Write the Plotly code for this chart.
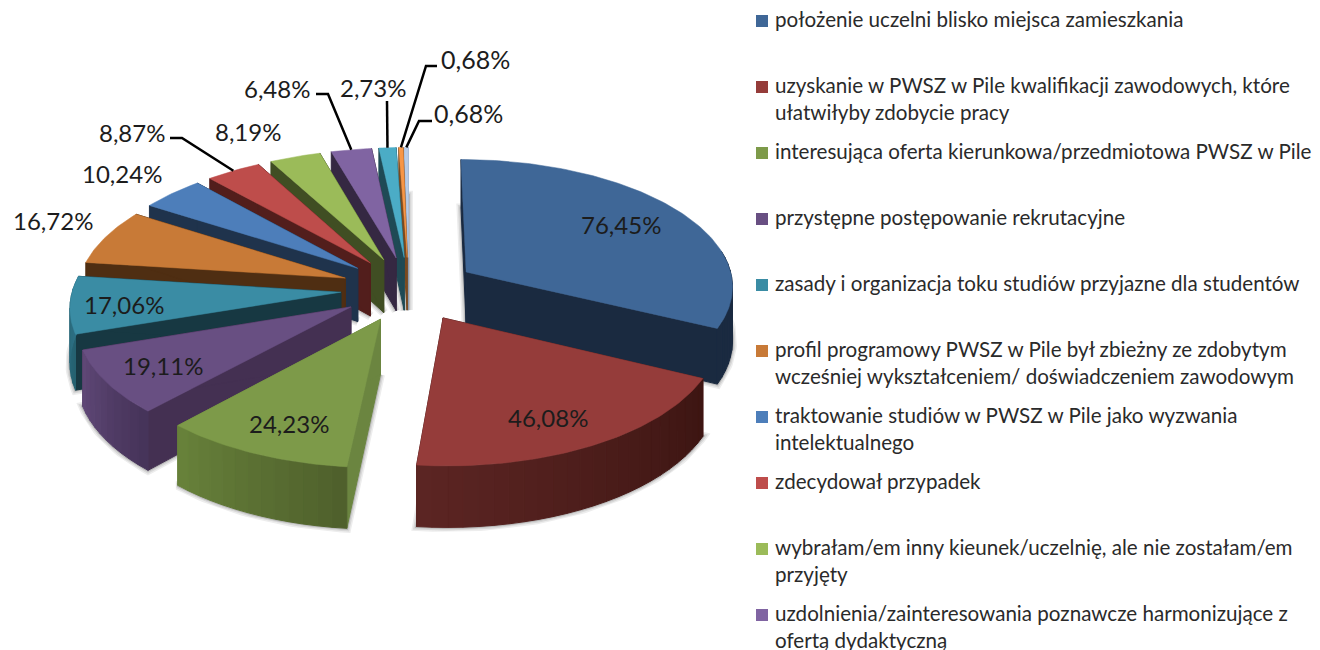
'''
    Exploded 3D-looking pie chart of the reasons for choosing PWSZ w Pile.
    The slices are scatter polygons computed from the values, so that the pie
    can be flattened and given some depth, which go.Pie is not able to do.
'''

import numpy as np
import plotly.graph_objects as go

VALUES = [76.45, 46.08, 24.23, 19.11, 17.06, 16.72, 10.24,
          8.87, 8.19, 6.48, 2.73, 0.68, 0.68]
VALUE_LABELS = ['76,45%', '46,08%', '24,23%', '19,11%', '17,06%', '16,72%', '10,24%',
                '8,87%', '8,19%', '6,48%', '2,73%', '0,68%', '0,68%']
LEGEND_NAMES = [
    ['położenie uczelni blisko miejsca zamieszkania'],
    ['uzyskanie w PWSZ w Pile kwalifikacji zawodowych, które', 'ułatwiłyby zdobycie pracy'],
    ['interesująca oferta kierunkowa/przedmiotowa PWSZ w Pile'],
    ['przystępne postępowanie rekrutacyjne'],
    ['zasady i organizacja toku studiów przyjazne dla studentów'],
    ['profil programowy PWSZ w Pile był zbieżny ze zdobytym',
     'wcześniej wykształceniem/ doświadczeniem zawodowym'],
    ['traktowanie studiów w PWSZ w Pile jako wyzwania', 'intelektualnego'],
    ['zdecydował przypadek'],
    ['wybrałam/em inny kieunek/uczelnię, ale nie zostałam/em', 'przyjęty'],
    ['uzdolnienia/zainteresowania poznawcze harmonizujące z', 'ofertą dydaktyczną'],
]

TOP_COLORS = ['#3F6797', '#953C3A', '#7D9A49', '#684F82', '#3A8CA4', '#C87A37', '#4D7EBA',
              '#BE4D4B', '#9BBB59', '#8064A2', '#4BACC6', '#F79646', '#B7CBE6']
WALL_COLORS = ['#1A2A40', '#552220', '#6B8540', '#443052', '#173842', '#4F2E12', '#1F334C',
               '#521E1C', '#404E23', '#352842', '#1F4A55', '#7A4A20', '#8C9DB5']
# outer wall goes from the first colour to the second one, clockwise
ARC_COLORS = [('#1A2A40', '#1A2A40'), ('#3C1512', '#5C2523'), ('#4E5F2B', '#68823B'),
              ('#453358', '#604878'), ('#24606F', '#2F7286'), ('#8A5425', '#8A5425'),
              ('#2F4F78', '#2F4F78'), ('#7A2F2E', '#7A2F2E'), ('#5F7536', '#5F7536'),
              ('#4F3E65', '#4F3E65'), ('#2E6B7C', '#2E6B7C'), ('#A8652E', '#A8652E'),
              ('#8C9DB5', '#8C9DB5')]

# pie geometry in pixels
CENTER_X, CENTER_Y = 409, 289
RADIUS_X, RADIUS_Y = 268, 127
EXPLODE = 0.255
PERSPECTIVE = 0.1
DEPTH = 54

# label centre for every slice, and the elbow of its leader line when it has one
LABEL_POS = [(621, 224), (548, 417), (289, 423), (163, 365), (124, 304), (53, 220), (122, 173),
             (132, 132), (248, 131), (277, 88), (373, 87), (475, 59), (468, 113)]
LABEL_SIZES = [24, 24, 24, 24, 24, 24, 24, 24, 24, 24, 24, 25, 25]
LEADERS = {7: [(170, 138), (182, 138)], 9: [(316, 94), (328, 94)], 10: [(387, 101)],
           11: [(437, 66), (426, 66)], 12: [(432, 121), (419, 121)]}
LEGEND_TOP, LEGEND_STEP, LINE_STEP = 21, 66, 27
FONT = 'Lato'


def project(angle, radius, middle, depth=0):
    '''
        Projects a point of an exploded slice onto the picture.

        Args:
            angle: Clockwise angle from the top, in degrees
            radius: Distance from the slice apex, 1 being the pie radius
            middle: Bisector angle of the slice, it gives the explosion direction
            depth: Pixels under the top face
        Returns:
            The x and y pixel position
    '''
    ang, mid = np.radians(angle), np.radians(middle)
    world_x = EXPLODE * np.sin(mid) + radius * np.sin(ang)
    world_y = -EXPLODE * np.cos(mid) - radius * np.cos(ang)
    scale = 1 / (1 - PERSPECTIVE * world_y)
    return (CENTER_X + RADIUS_X * world_x * scale,
            CENTER_Y + RADIUS_Y * world_y * scale + depth * scale)


def polygon(points, color, line_width=1):
    '''
        Returns a filled closed polygon trace.
    '''
    xs, ys = zip(*points)
    return go.Scatter(x=list(xs) + [xs[0]], y=list(ys) + [ys[0]], mode='lines', fill='toself',
                      fillcolor=color, line=dict(color=color, width=line_width),
                      hoverinfo='skip', showlegend=False)


def mix(first, second, ratio):
    '''
        Interpolates between two hex colours.
    '''
    a = [int(first[i:i + 2], 16) for i in (1, 3, 5)]
    b = [int(second[i:i + 2], 16) for i in (1, 3, 5)]
    return 'rgb({},{},{})'.format(*[round(u + (v - u) * ratio) for u, v in zip(a, b)])


def get_slices():
    '''
        Converts the values to start, end and bisector angles.
    '''
    edges = np.concatenate([[0], np.cumsum(VALUES)]) / sum(VALUES) * 360
    return [(edges[i], edges[i + 1], (edges[i] + edges[i + 1]) / 2) for i in range(len(VALUES))]


def arc(start, end, middle, depth=0):
    steps = max(int(np.ceil(end - start)), 1)
    return [project(a, 1, middle, depth) for a in np.linspace(start, end, steps + 1)]


def draw_shadows(fig, slices):
    '''
        Draws the soft shadow as grey halos of the slice bottoms.
    '''
    for width, color in [(9, '#EDEDED'), (6, '#D8D8D8'), (3, '#B8B8B8')]:
        for start, end, middle in slices:
            points = [project(start, 0, middle, DEPTH)] + arc(start, end, middle, DEPTH)
            fig.add_trace(polygon(points, color, width))


def draw_slice(fig, index, start, end, middle):
    '''
        Draws the side walls, the outer wall and the top face of a slice.
    '''
    apex_top = project(start, 0, middle)
    apex_low = project(start, 0, middle, DEPTH)
    for edge in (start, end):
        fig.add_trace(polygon([apex_top, project(edge, 1, middle),
                               project(edge, 1, middle, DEPTH), apex_low], WALL_COLORS[index]))

    strips = max(int(np.ceil((end - start) / 3)), 1)
    angles = np.linspace(start, end, strips + 1)
    for i in range(strips):
        a, b = angles[i], angles[i + 1]
        if np.cos(np.radians((a + b) / 2)) > 0.15:  # far side, hidden by the top face
            continue
        points = arc(a, b, middle) + arc(a, b, middle, DEPTH)[::-1]
        fig.add_trace(polygon(points, mix(*ARC_COLORS[index], (i + 0.5) / strips)))

    fig.add_trace(polygon([apex_top] + arc(start, end, middle), TOP_COLORS[index], 0.5))


def draw_labels(fig, slices):
    '''
        Adds the value labels and their leader lines.
    '''
    for i, text in enumerate(VALUE_LABELS):
        fig.add_annotation(x=LABEL_POS[i][0], y=LABEL_POS[i][1], text=text, showarrow=False,
                           font=dict(family=FONT, size=LABEL_SIZES[i], color='#1C1C1C'))
        if i in LEADERS:
            tip = project(slices[i][2], 1, slices[i][2])
            xs, ys = zip(*(LEADERS[i] + [tip]))
            fig.add_trace(go.Scatter(x=xs, y=ys, mode='lines', hoverinfo='skip', showlegend=False,
                                     line=dict(color='black', width=2.5)))


def draw_legend(fig):
    '''
        Adds the legend by hand, its entries sit on a regular step.
    '''
    for i, lines in enumerate(LEGEND_NAMES):
        y = LEGEND_TOP + i * LEGEND_STEP
        fig.add_trace(go.Scatter(x=[762], y=[y], mode='markers', hoverinfo='skip', showlegend=False,
                                 marker=dict(symbol='square', size=12, color=TOP_COLORS[i])))
        for j, line in enumerate(lines):
            fig.add_annotation(x=773, y=y - 2 + j * LINE_STEP, text=line, showarrow=False, xanchor='left',
                               font=dict(family=FONT, size=20.6, color='#2A2A2A'))


fig = go.Figure()
slices = get_slices()
draw_shadows(fig, slices)
# far slices first, so that the closer ones cover them
for i in sorted(range(len(slices)), key=lambda k: -np.cos(np.radians(slices[k][2]))):
    draw_slice(fig, i, *slices[i])
draw_labels(fig, slices)
draw_legend(fig)

fig.update_layout(width=1320, height=650, margin=dict(l=0, r=0, t=0, b=0), showlegend=False,
                  paper_bgcolor='white', plot_bgcolor='white', dragmode=False)
fig.update_xaxes(range=[0, 1320], visible=False)
fig.update_yaxes(range=[650, 0], visible=False)

fig.write_html('out.html', config=dict(displayModeBar=False),
               post_script="document.body.style.margin='0';document.body.style.overflow='hidden';")
